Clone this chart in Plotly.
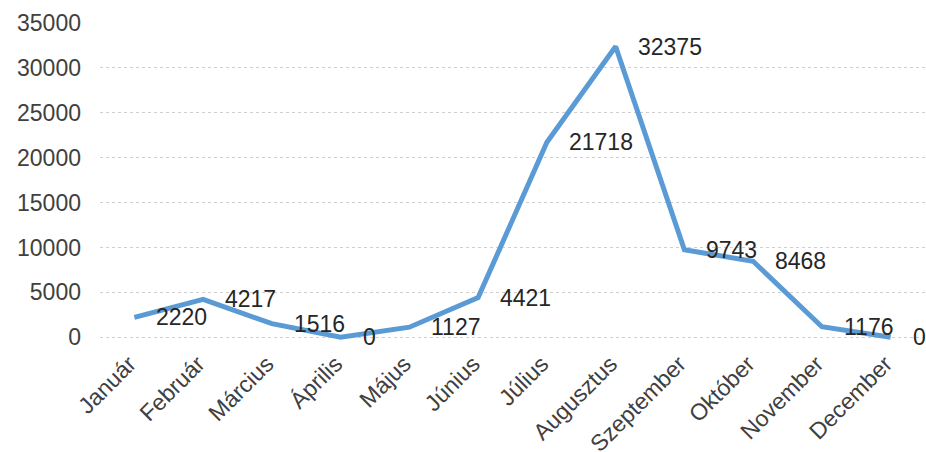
import plotly.graph_objects as go

months = ["Január", "Február", "Március", "Április", "Május", "Június",
          "Július", "Augusztus", "Szeptember", "Október", "November", "December"]
values = [2220, 4217, 1516, 0, 1127, 4421, 21718, 32375, 9743, 8468, 1176, 0]
y_ticks = [0, 5000, 10000, 15000, 20000, 25000, 30000, 35000]

FONT = "Liberation Sans, Arial, sans-serif"

fig = go.Figure()
fig.add_trace(go.Scatter(
    x=months, y=values, mode="lines",
    line=dict(color="#5b9bd5", width=5),
    hoverinfo="x+y", showlegend=False,
))

for m, v in zip(months, values):
    fig.add_annotation(
        x=m, y=v, text=str(v), showarrow=False,
        xanchor="left", yanchor="middle", xshift=20,
        font=dict(family=FONT, size=23, color="#262626"),
    )

fig.update_layout(
    width=926, height=452,
    margin=dict(l=100, r=1, t=23, b=112),
    paper_bgcolor="white", plot_bgcolor="white",
    font=dict(family=FONT, size=23, color="#404040"),
)
fig.update_xaxes(
    type="category", categoryorder="array", categoryarray=months,
    range=[-0.5, 11.5], tickangle=-45, showgrid=False, showline=False,
    zeroline=False, ticks="", ticklabelstandoff=5, ticklabelshift=-5,
    automargin=False,
)
fig.update_yaxes(
    range=[-300, 35000], tickvals=y_ticks, ticktext=[str(t) for t in y_ticks],
    showgrid=True, gridcolor="#cfcfcf", griddash="dot", gridwidth=1,
    zeroline=False, showline=False, ticks="", ticklabelstandoff=18,
    automargin=False,
)

fig.write_html(
    "out.html",
    config={"displayModeBar": False},
    post_script="document.body.style.margin='0';document.body.style.overflow='hidden';",
)
